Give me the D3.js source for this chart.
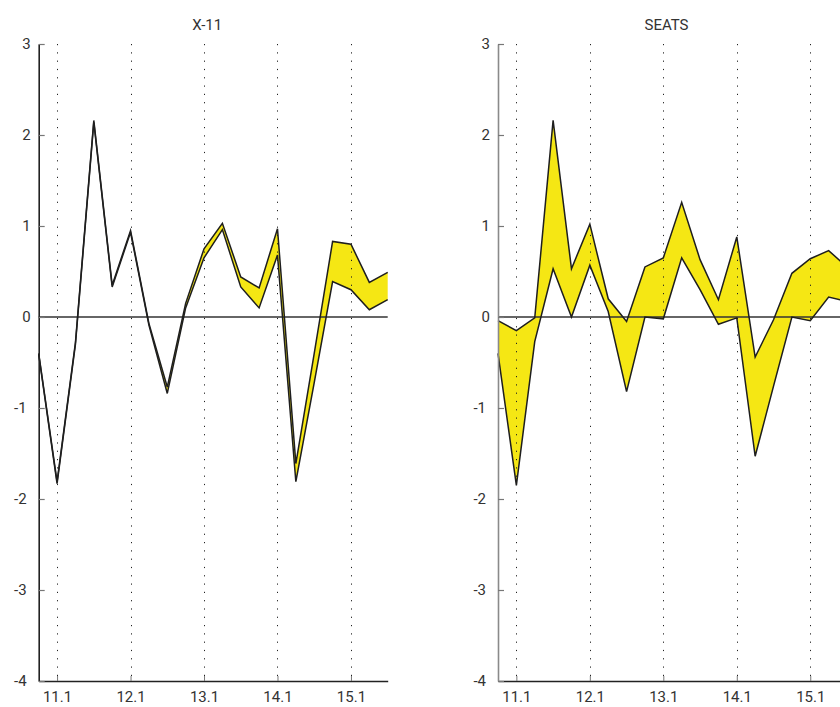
<!DOCTYPE html>
<html>
<head>
<meta charset="utf-8">
<script src="https://cdn.jsdelivr.net/npm/d3@7"></script>
<style>
  html, body { margin: 0; padding: 0; background: #fff; }
  svg { display: block; }
  text { font-family: Roboto, "Noto Sans", sans-serif; fill: #333; }
</style>
</head>
<body>
<svg id="chart" width="840" height="707"></svg>
<script>
// Quarters from 10.4 to 15.3
const quarters = ["10.4","11.1","11.2","11.3","11.4","12.1","12.2","12.3","12.4","13.1","13.2","13.3","13.4","14.1","14.2","14.3","14.4","15.1","15.2","15.3"];
const xTickLabels = ["11.1","12.1","13.1","14.1","15.1"];
const yTicks = [-4,-3,-2,-1,0,1,2,3];
const panelTitles = ["X-11","SEATS"];

// X-11 panel: two series (upper / lower boundary of the yellow band)
const x11Upper = [-0.40,-1.81,-0.28,2.16,0.35,0.95,-0.07,-0.77,0.15,0.75,1.03,0.44,0.32,0.97,-1.61,-0.40,0.83,0.80,0.38,0.49];
const x11Lower = [-0.41,-1.83,-0.30,2.14,0.33,0.93,-0.09,-0.84,0.10,0.65,0.96,0.33,0.10,0.68,-1.81,-0.72,0.39,0.30,0.08,0.19];

// SEATS panel
const seatsUpper = [-0.04,-0.15,-0.01,2.16,0.53,1.02,0.20,-0.05,0.55,0.65,1.26,0.63,0.19,0.88,-0.44,-0.03,0.48,0.64,0.73,0.55];
const seatsLower = [-0.40,-1.85,-0.27,0.53,0.00,0.57,0.06,-0.82,0.00,-0.02,0.65,0.30,-0.08,-0.01,-1.53,-0.76,0.00,-0.04,0.22,0.17];

const svg = d3.select("#chart");
const yTop = 44, yBottom = 681, plotW = 349;
const y = d3.scaleLinear().domain([-4, 3]).range([yBottom, yTop]);

const panels = [
  { title: panelTitles[0], left: 38.7, upper: x11Upper, lower: x11Lower, axisColor: "#222" },
  { title: panelTitles[1], left: 498, upper: seatsUpper, lower: seatsLower, axisColor: "#8a8a8a" }
];

panels.forEach(p => {
  const x = d3.scaleLinear().domain([0, quarters.length - 1]).range([p.left, p.left + plotW]);
  const g = svg.append("g");
  const data = quarters.map((q, i) => ({ i, a: p.upper[i], b: p.lower[i] }));
  const tickIdx = xTickLabels.map(l => quarters.indexOf(l));

  // band fill
  g.append("path")
    .datum(data)
    .attr("fill", "#f5e714")
    .attr("d", d3.area().x(d => x(d.i)).y0(d => y(d.b)).y1(d => y(d.a)));

  // dotted vertical grid lines
  g.selectAll(".grid").data(tickIdx).enter().append("line")
    .attr("x1", d => Math.round(x(d)) + 0.5).attr("x2", d => Math.round(x(d)) + 0.5)
    .attr("y1", yTop).attr("y2", yBottom)
    .attr("stroke", "#222").attr("stroke-width", 1)
    .attr("stroke-dasharray", "1.2,7.1");

  // zero line
  g.append("line")
    .attr("x1", p.left).attr("x2", p.left + plotW)
    .attr("y1", y(0)).attr("y2", y(0))
    .attr("stroke", "#333").attr("stroke-width", 1.3);

  // series lines
  [p.upper, p.lower].forEach(s => {
    g.append("path")
      .datum(s)
      .attr("fill", "none")
      .attr("stroke", "#1e1e1e")
      .attr("stroke-width", 1.5)
      .attr("stroke-linejoin", "miter")
      .attr("d", d3.line().x((d, i) => x(i)).y(d => y(d)));
  });

  // x axis
  const xAxis = d3.axisBottom(x)
    .tickValues(tickIdx)
    .tickFormat(i => quarters[i])
    .tickSizeInner(-5).tickSizeOuter(0).tickPadding(16);
  const xa = g.append("g").attr("transform", `translate(0,${yBottom})`).call(xAxis);
  xa.select(".domain").attr("stroke", "#222").attr("stroke-width", 1.5);
  xa.selectAll(".tick line").attr("stroke", "#777");
  xa.selectAll(".tick text").attr("font-size", 15).attr("fill", "#333").attr("dy", "0.35em");

  // y axis
  const yAxis = d3.axisLeft(y)
    .tickValues(yTicks)
    .tickFormat(d => String(d).replace("\u2212", "-"))
    .tickSizeInner(-6).tickSizeOuter(0).tickPadding(8);
  const ya = g.append("g").attr("transform", `translate(${p.left},0)`).call(yAxis);
  ya.select(".domain").attr("stroke", p.axisColor).attr("stroke-width", 1.6);
  ya.selectAll(".tick line").attr("stroke", "#777").attr("stroke-width", 1.2);
  ya.selectAll(".tick text").attr("font-size", 15).attr("fill", "#333")
    .attr("dx", d => d < 0 ? -4 : 0);

  // title
  g.append("text")
    .attr("x", p.left + plotW / 2 - 6).attr("y", 30)
    .attr("text-anchor", "middle").attr("font-size", 15)
    .text(p.title);
});
</script>
</body>
</html>
